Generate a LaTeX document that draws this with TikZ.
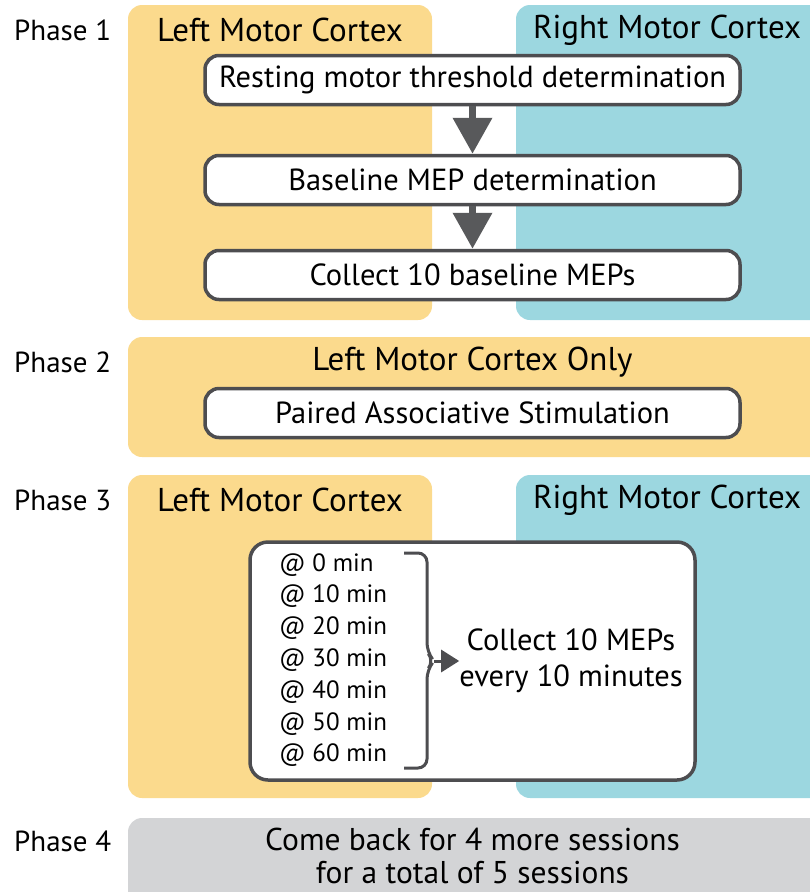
\documentclass[tikz,border=0pt]{standalone}
\usepackage{fontspec}
\setmainfont{PT Sans}
\usetikzlibrary{arrows.meta, positioning, calc}
\definecolor{CortexYellow}{RGB}{251,218,141}
\definecolor{CortexTeal}{RGB}{156,215,224}
\definecolor{SessionGray}{RGB}{211,212,214}
\definecolor{BoxBorder}{RGB}{77,77,80}
\definecolor{ArrowDark}{RGB}{88,89,91}
\newcommand{\bigtext}{\fontsize{30.5}{36}\selectfont}
\newcommand{\titletext}{\fontsize{33}{36}\selectfont}
\newcommand{\listtext}{\fontsize{25}{31.8}\selectfont}
\tikzset{
  phaselabel/.style={font=\fontsize{29}{36}\selectfont, anchor=west, inner sep=0pt},
  paneltitle/.style={font=\titletext, inner sep=0pt},
  panel/.style={rounded corners=14pt},
  stepbox/.style={draw=BoxBorder, line width=3.5pt, fill=white,
    rounded corners=14pt, minimum width=535pt, minimum height=49pt,
    font=\bigtext, inner sep=0pt},
  flowarrow/.style={draw=ArrowDark, line width=7pt,
    -{Triangle[length=36pt,width=38pt]}},
}

\begin{document}
\begin{tikzpicture}[x=1pt,y=-1pt]
  \useasboundingbox (0,0) rectangle (810,892);
  % Phase 1
  \fill[CortexYellow,panel] (128,5) rectangle (432,320);
  \fill[CortexTeal,panel] (516,5) rectangle (830,320);
  \node[phaselabel] (ph1) at (14,30) {Phase 1};
  \node[paneltitle] (left1) at (280,30) {Left Motor Cortex};
  \node[paneltitle] (right1) at (667,30) {Right Motor Cortex};
  \node[stepbox] (rmt) at (472.5,80) {Resting motor threshold determination};
  \node[stepbox] (basemep) at (472.5,180) {Baseline MEP determination};
  \node[stepbox] (collect) at (472.5,275) {Collect 10 baseline MEPs};
  \draw[flowarrow] (rmt) -- (basemep);
  \draw[flowarrow] (basemep) -- (collect);
  % Phase 2
  \fill[CortexYellow,panel] (128,337) rectangle (830,457);
  \node[phaselabel] (ph2) at (14,362) {Phase 2};
  \node[paneltitle] (leftonly) at (472.5,362) {Left Motor Cortex Only};
  \node[stepbox] (pas) at (472.5,413) {Paired Associative Stimulation};
  % Phase 3
  \fill[CortexYellow,panel] (128,475) rectangle (432,798);
  \fill[CortexTeal,panel] (516,475) rectangle (830,798);
  \node[phaselabel] (ph3) at (14,500) {Phase 3};
  \node[paneltitle] (left3) at (280,500) {Left Motor Cortex};
  \node[paneltitle] (right3) at (667,500) {Right Motor Cortex};
  \node[stepbox, rounded corners=18pt, minimum width=445pt,
    minimum height=238pt] (sched) at (472.5,661) {};
  \node[font=\listtext, align=left, anchor=west, inner sep=0pt]
    (minlist) at (279,660)
    {@ 0 min\\@ 10 min\\@ 20 min\\@ 30 min\\@ 40 min\\@ 50 min\\@ 60 min};
  \node[font=\fontsize{30.5}{36}\selectfont, align=center, inner sep=0pt]
    (mepnote) at (571,661) {Collect 10 MEPs\\every 10 minutes};
  \coordinate (bracetop) at (404,553);
  \coordinate (bracebot) at (404,768);
  \coordinate (bracetip) at (434,661);
  \draw[BoxBorder, line width=3pt, rounded corners=9pt]
    (bracetop) -| (427,652) -- (bracetip) -- (427,670) |- (bracebot);
  \draw[BoxBorder, line width=3pt, -{Triangle[length=18pt,width=22pt]}]
    (bracetip) -- (bracetip -| mepnote.west);
  % Phase 4
  \fill[SessionGray,panel] (128,818) rectangle (830,910);
  \node[phaselabel] (ph4) at (14,841) {Phase 4};
  \node[font=\fontsize{31.5}{33}\selectfont, align=center, inner sep=0pt]
    (sessions) at (472.5,856) {Come back for 4 more sessions\\for a total of 5 sessions};
\end{tikzpicture}
\end{document}
